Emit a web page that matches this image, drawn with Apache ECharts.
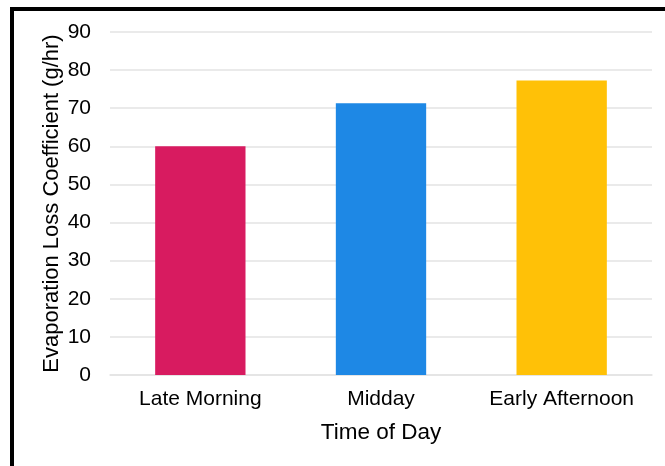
<!DOCTYPE html>
<html>
<head>
<meta charset="utf-8">
<script src="https://cdn.jsdelivr.net/npm/echarts@6/dist/echarts.min.js"></script>
<style>
  html, body { margin: 0; padding: 0; background: #fff; }
  #frame {
    position: absolute; left: 10px; top: 7px; width: 700px; height: 500px;
    border-top: 4px solid #000; border-left: 4px solid #000; box-sizing: border-box;
  }
  #chart { position: absolute; left: 0; top: 0; width: 665px; height: 466px; }
</style>
</head>
<body>
<div id="frame"></div>
<div id="chart"></div>
<script>
// Evaporation loss by time of day
const categories = ['Late Morning', 'Midday', 'Early Afternoon'];
const lossValues = [60, 71.3, 77.3];
const barColors = ['#D81B60', '#1E88E5', '#FFC107'];
const yTicks = { min: 0, max: 90, interval: 10 };

const chart = echarts.init(document.getElementById('chart'), null, { renderer: 'canvas' });
const font = 'Liberation Sans, Arial, Helvetica, sans-serif';

chart.setOption({
  animation: false,
  grid: { left: 110, right: 13, top: 32, bottom: 91 },
  xAxis: {
    type: 'category',
    data: categories,
    name: 'Time of Day',
    nameLocation: 'middle',
    nameGap: 46,
    nameMoveOverlap: false,
    nameTextStyle: { fontFamily: font, fontSize: 22.5, color: '#000' },
    axisLine: { show: true, lineStyle: { color: '#e3e3e3', width: 1.5 } },
    axisTick: { show: false },
    axisLabel: { interval: 0, fontFamily: font, fontSize: 21, color: '#000', margin: 14 }
  },
  yAxis: {
    type: 'value',
    min: yTicks.min,
    max: yTicks.max,
    interval: yTicks.interval,
    name: 'Evaporation Loss Coefficient (g/hr)',
    nameLocation: 'middle',
    nameGap: 47,
    nameMoveOverlap: false,
    nameTextStyle: { fontFamily: font, fontSize: 22, color: '#000' },
    axisLine: { show: false },
    axisTick: { show: false },
    splitLine: { lineStyle: { color: '#e3e3e3', width: 1.5 } },
    axisLabel: { fontFamily: font, fontSize: 21, color: '#000', margin: 19 }
  },
  series: [{
    type: 'bar',
    barWidth: '50%',
    data: lossValues.map((v, i) => ({ value: v, itemStyle: { color: barColors[i] } }))
  }]
});
</script>
</body>
</html>
